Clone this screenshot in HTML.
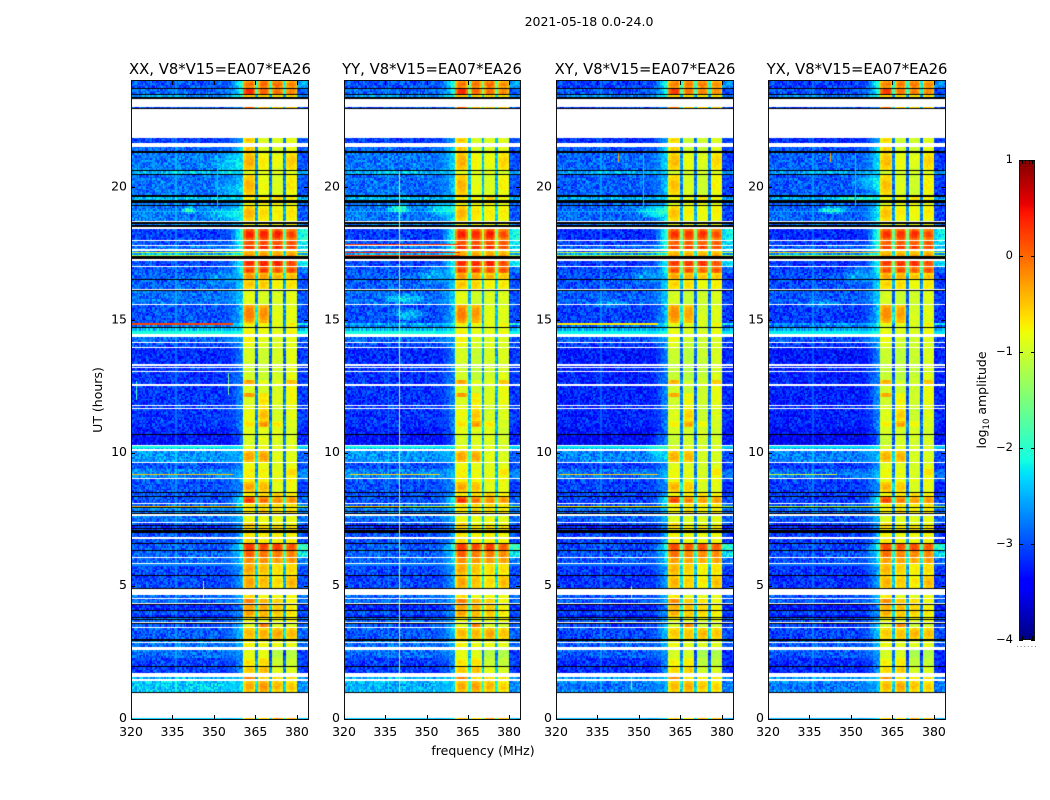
<!DOCTYPE html>
<html lang="en">
<head>
<meta charset="utf-8">
<title>2021-05-18 0.0-24.0</title>
<style>
html,body{margin:0;padding:0;background:#fff;}
#figure{position:relative;width:1050px;height:800px;overflow:hidden;background:#fff;font-family:"DejaVu Sans","Liberation Sans",sans-serif;}
canvas{position:absolute;display:block;}
svg{position:absolute;left:0;top:0;}
text{fill:#000;font-family:"DejaVu Sans","Liberation Sans",sans-serif;}
</style>
</head>
<body>
<div id="figure">
<canvas id="heat0"></canvas>
<canvas id="heat1"></canvas>
<canvas id="heat2"></canvas>
<canvas id="heat3"></canvas>
<canvas id="cbar"></canvas>
<svg id="overlay" width="1050" height="800">
<text x="589" y="26" font-size="12.5" text-anchor="middle">2021-05-18 0.0-24.0</text>
<text x="483" y="755" font-size="12.5" text-anchor="middle">frequency (MHz)</text>
<text transform="translate(102,400) rotate(-90)" font-size="12.5" text-anchor="middle">UT (hours)</text>
<text transform="translate(986,400) rotate(-90)" font-size="12.5" text-anchor="middle">log<tspan dy="3" font-size="8.5">10</tspan><tspan dy="-3"> amplitude</tspan></text>
</svg>
</div>
<script>
/* Shorthand for flagged samples: W = no data (white), K = black divider row */
const W = null, K = -9;

/* Value ranges of the figure */
const freqRange = [320, 384];
const utRange = [0, 24];
const colorRange = [-4, 1];

/* Tick labels */
const freqTicks = [320, 335, 350, 365, 380];
const utTicks = [0, 5, 10, 15, 20];
const colorTicks = [-4, -3, -2, -1, 0, 1];
const panelTitles = ["XX, V8*V15=EA07*EA26", "YY, V8*V15=EA07*EA26", "XY, V8*V15=EA07*EA26", "YX, V8*V15=EA07*EA26"];

/* Receiver sub-bands in MHz */
const blockEdges = [[360.6, 365.0], [366.0, 370.0], [371.0, 375.0], [376.0, 380.0]];
const shoulderStart = 353;

/* Time bands, top to bottom.
   [UT of band top, background, shoulder, block1, block2, block3, block4, right edge] (log10 amplitude) */
const timeBands = [
[24.00,-2.9,-1.7,0.0,0.05,0.05,-0.1,-2.5],[23.74,K],
[23.70,-2.8,-1.9,0.35,0.05,0.0,-0.1,-2.9],[23.51,K],
[23.47,-2.5,-1.9,-0.5,-0.6,-0.6,-0.6,-2.5],[23.40,K],
[23.32,W],[23.02,-2.9,-2.4,0.1,-0.4,-0.5,-0.5,-2.8],[22.97,K],
[22.93,W],
[21.86,-3.0,-2.4,-0.5,-0.9,-0.9,-0.8,-2.9],[21.65,W],
[21.53,-2.8,-2.2,-0.5,-0.9,-0.9,-0.8,-2.9],[21.35,K],
[21.30,-2.7,-2.2,-0.35,-0.7,-0.8,-0.5,-2.9],[20.67,K],
[20.63,-2.35,-2.3,-0.9,-0.9,-0.9,-0.9,-2.4],[20.50,K],
[20.47,-2.75,-2.3,-0.4,-0.8,-0.9,-0.65,-2.9],[19.71,K],
[19.64,-2.35,-2.3,-0.7,-0.7,-0.6,-0.7,-2.4],[19.52,K],
[19.40,-2.7,-2.3,-0.8,-0.8,-0.8,-0.8,-2.7],[19.35,K],
[19.30,-2.7,-2.1,-0.4,-0.6,-0.7,-0.65,-2.9],[18.72,W],[18.68,K],
[18.63,-2.6,-2.2,-0.8,-0.8,-0.8,-0.8,-2.6],[18.58,K],[18.49,W],
[18.45,-3.0,-1.6,0.4,0.45,0.45,0.25,-2.0],[18.02,W],
[17.97,-2.9,-1.7,0.15,0.2,0.15,0.15,-2.2],[17.83,W],
[17.79,-2.75,-1.7,0.3,0.35,0.35,0.2,-2.2],[17.67,W],
[17.61,-2.8,-2.0,-0.4,-0.4,-0.4,-0.4,-2.4],[17.55,-0.9,-0.9,-0.4,-0.4,-0.4,-0.4,-0.9],
[17.52,-2.4,-2.0,-0.3,-0.3,-0.3,-0.3,-2.4],[17.47,-1.1,-1.0,-0.2,-0.2,-0.2,-0.2,-1.1],
[17.42,K],[17.29,W],
[17.24,-2.95,-1.9,0.35,0.4,0.4,0.25,-2.2],[17.04,W],
[17.00,-2.9,-1.9,0.25,0.3,0.2,0.25,-2.7],[16.78,-2.8,-2.2,-0.2,-0.25,-0.4,-0.4,-2.9],[16.54,K],
[16.50,-2.8,-2.2,-0.45,-0.5,-0.7,-0.6,-2.9],[16.18,W],[16.14,K],
[16.10,-2.75,-2.2,-0.85,-0.95,-0.9,-0.85,-2.9],[15.61,W],
[15.56,-2.9,-2.3,-0.1,-0.2,-0.85,-0.8,-2.9],
[14.88,-2.4,-1.9,-0.7,-0.7,-0.8,-0.7,-2.0],
[14.82,-2.65,-2.3,-0.9,-0.9,-0.9,-0.8,-2.8],[14.73,K],
[14.70,-2.35,-2.2,-0.8,-0.8,-0.9,-0.8,-2.35],[14.61,W],
[14.59,-2.3,-2.2,-0.8,-0.9,-0.9,-0.8,-2.3],[14.50,W],
[14.38,-2.8,-2.4,-0.75,-0.85,-0.9,-0.85,-2.9],[14.18,W],
[14.13,-2.95,-2.5,-0.8,-0.9,-0.9,-0.85,-2.9],[14.01,W],
[13.95,-3.1,-2.6,-0.95,-1.0,-0.95,-0.85,-3.0],[13.34,W],
[13.28,-3.05,-2.5,-1.0,-1.05,-1.0,-0.9,-3.0],[13.24,W],
[13.20,-3.05,-2.5,-1.0,-1.05,-1.0,-0.9,-3.0],[13.10,W],
[13.05,-3.05,-2.6,-0.95,-1.05,-0.95,-0.8,-3.0],
[12.75,-3.05,-2.6,-0.3,-0.85,-0.9,-0.4,-3.0],[12.61,W],
[12.53,-3.05,-2.6,-0.9,-0.95,-0.9,-0.75,-3.0],
[12.26,-3.05,-2.6,-0.25,-0.65,-0.9,-0.75,-3.0],
[12.11,-3.05,-2.6,-0.9,-0.65,-0.9,-0.75,-3.0],[11.81,W],
[11.78,-3.0,-2.5,-0.8,-0.7,-0.9,-0.8,-3.0],[11.71,W],
[11.67,-3.05,-2.6,-0.8,-0.45,-0.95,-0.85,-3.0],
[11.20,-3.05,-2.6,-0.65,-0.2,-0.65,-0.85,-3.0],
[10.98,-3.15,-2.7,-0.85,-0.85,-0.85,-0.9,-3.1],[10.72,K],
[10.68,-3.25,-2.8,-0.95,-0.85,-0.9,-0.9,-3.1],[10.31,W],
[10.27,-2.35,-2.3,-0.9,-0.85,-0.9,-0.9,-2.4],[10.15,W],
[10.08,-2.55,-2.4,-0.3,-0.25,-0.85,-0.85,-2.8],[9.67,W],
[9.63,-2.9,-2.6,-0.8,-0.8,-0.9,-0.8,-2.9],
[9.42,-2.3,-2.3,-0.9,-0.9,-0.9,-0.9,-2.3],
[9.39,-2.65,-2.4,-0.7,-0.75,-0.85,-0.6,-2.7],
[9.22,-2.5,-2.3,-0.75,-0.8,-0.85,-0.6,-2.5],
[9.18,-2.65,-2.4,-0.7,-0.75,-0.85,-0.7,-2.7],[9.06,W],
[9.02,-2.85,-2.4,-0.7,-0.7,-0.7,-0.7,-2.8],[8.93,K],
[8.90,-2.9,-2.6,-0.3,-0.4,-0.85,-0.75,-3.0],[8.54,K],
[8.51,-2.9,-2.5,-0.7,-0.6,-0.5,-0.7,-2.9],[8.39,K],
[8.35,-2.9,-2.0,0.35,0.05,-0.15,-0.15,-2.8],[8.11,W],
[8.07,-2.8,-2.1,-0.6,-0.5,-0.6,-0.6,-2.7],
[8.02,-1.0,-1.0,-0.7,-0.7,-0.7,-0.7,-1.0],[7.99,-2.8,-2.4,-0.7,-0.7,-0.7,-0.7,-2.6],[7.96,K],
[7.92,-2.5,-2.3,-0.7,-0.7,-0.7,-0.7,-2.5],[7.89,-2.7,-2.4,-0.6,-0.5,-0.6,-0.6,-2.7],[7.81,K],
[7.79,-2.7,-2.4,-0.7,-0.5,-0.7,-0.6,-2.7],[7.74,K],[7.70,W],
[7.65,-2.75,-2.3,-0.8,-0.8,-0.8,-0.8,-2.7],[7.42,W],
[7.37,-2.9,-2.4,-0.5,-0.8,-0.8,-0.8,-2.9],[7.30,K],
[7.26,-3.1,-2.5,-0.5,-0.6,-0.6,-0.6,-3.0],[7.17,K],
[7.15,-3.0,-2.5,-0.6,-0.6,-0.6,-0.6,-3.0],[7.10,K],[7.01,-2.9,-2.4,-0.7,-0.7,-0.7,-0.7,-2.9],
[6.84,W],
[6.78,-2.9,-2.4,-0.6,-0.7,-0.7,-0.7,-2.9],[6.61,K],
[6.57,-2.85,-1.8,0.25,0.2,0.25,0.15,-1.8],[6.36,K],
[6.32,-2.8,-2.1,0.05,-0.05,-0.1,-0.1,-2.1],[6.11,W],
[6.06,-2.8,-2.2,-0.2,-0.2,-0.25,-0.25,-2.7],[5.88,W],
[5.84,-2.95,-2.4,-0.3,-0.4,-0.6,-0.55,-2.9],[5.42,K],
[5.38,-2.95,-2.4,-0.3,-0.4,-0.6,-0.35,-2.9],[4.92,K],
[4.88,W],
[4.66,-2.8,-2.4,-0.6,-0.8,-0.8,-0.8,-2.8],[4.54,W],
[4.50,-2.8,-2.4,-0.1,-0.4,-0.5,-0.7,-2.8],[4.35,W],[4.31,K],
[4.28,-3.1,-2.6,-0.3,-0.35,-0.5,-0.7,-3.0],[4.10,K],
[4.06,-2.9,-2.5,-0.3,-0.4,-0.5,-0.6,-2.9],[3.91,-3.2,-2.6,-0.4,-0.4,-0.6,-0.7,-3.1],[3.85,K],
[3.81,-2.75,-2.4,-0.7,-0.7,-0.7,-0.7,-2.7],[3.76,K],[3.72,-2.8,-2.4,-0.8,-0.8,-0.8,-0.8,-2.8],
[3.66,W],[3.60,K],
[3.56,-2.9,-2.4,-0.9,-0.1,-0.9,-0.9,-2.9],[3.47,W],
[3.41,-2.85,-2.3,-0.4,-0.35,-0.3,-0.4,-2.8],[3.01,K],
[2.95,-2.65,-2.4,-0.8,-0.8,-0.8,-0.8,-2.6],[2.91,W],
[2.87,-2.75,-2.4,-0.7,-0.8,-0.8,-0.8,-2.8],[2.72,W],
[2.60,-2.75,-2.5,-0.85,-0.85,-1.15,-1.15,-3.0],
[2.30,-3.0,-2.6,-0.65,-0.55,-1.0,-1.0,-3.0],[2.01,K],
[1.97,-3.0,-2.6,-0.5,-0.4,-0.85,-0.85,-3.0],[1.74,W],
[1.59,-2.4,-2.2,-0.1,-0.6,-0.6,-0.6,-2.5],[1.52,W],
[1.43,-2.3,-2.25,-0.35,-0.2,-0.4,-0.5,-2.6],[1.02,K],[0.99,W],
[0.05,-2.6,-2.4,-0.5,-0.6,-0.3,-0.4,-2.6]
];

/* Per-panel level adjustments: XX, YY, XY, YX */
const backgroundOffset = [-0.08, -0.1, -0.18, -0.2];
const shoulderOffset = [-0.05, 0, 0, 0.05];
const blockOffset = [[0, 0, 0, 0], [0, -0.05, 0, -0.05], [-0.08, -0.12, -0.1, -0.08], [-0.08, -0.1, -0.08, -0.05]];
const notchDrop = [1.9, 1.6, 1.9, 2.0];

/* Narrow horizontal interference: [panel, UT top, UT bottom, MHz from, MHz to, level] */
const horizontalLines = [
[0,14.88,14.82,320,357,0.2],[0,9.22,9.18,320,357,-0.5],[0,8.02,7.99,320,358,-0.4],
[1,17.85,17.79,320,362,0.3],[1,17.58,17.52,320,362,0.35],[1,17.47,17.42,320,362,0.2],[1,9.22,9.18,322,355,-0.6],[1,8.02,7.99,322,340,-0.5],
[2,14.88,14.82,320,357,-0.7],[2,9.22,9.18,321,357,-0.55],[2,8.02,7.99,320,358,-0.7],
[3,9.22,9.18,320,345,-1.0],[3,17.55,17.52,320,362,-0.5]
];

/* Narrow vertical interference: [panel, MHz, UT from, UT to, level] */
const verticalLines = [
[0,355.2,12.2,13.0,-1.5],[0,346.2,4.55,5.2,-1.0],[0,321.8,12.0,12.7,-1.9],[0,351,19.3,21.3,-2.4],
[1,340,1.0,20.6,-1.1],
[2,342.5,20.95,21.3,-0.3],[3,342.5,20.95,21.3,-0.3],
[3,351.5,19.3,21.3,-2.4],[2,351.5,19.3,21.3,-2.4],[2,347,1.1,1.6,-1.4],[2,347,4.55,5.0,-1.4]
];

/* Smooth background patches: [panel, centre MHz, centre UT, MHz radius, UT radius, gain] */
const backgroundPatches = [
[0,355,20.9,6,0.5,0.35],[0,355,19.9,6,0.4,0.3],[0,354,19.0,8,0.3,0.4],[0,341,19.15,3,0.14,0.8],
[1,340,19.2,5,0.18,0.85],[1,342,15.8,8,0.2,0.6],[1,344,15.2,7,0.25,0.6],[1,355,19.2,6,0.3,0.5],
[2,355,19.1,7,0.3,0.6],[2,340,15.6,7,0.2,0.4],[2,357,10.2,5,0.7,0.3],
[3,343,19.15,6,0.15,0.8],[3,352,19.6,9,0.2,0.55],[3,356,20.2,6,0.4,0.4],[3,340,15.6,7,0.2,0.4],
[0,352,16.6,6,0.4,0.25],[1,352,16.7,6,0.4,0.4],[2,352,16.7,6,0.4,0.4],[3,352,16.7,6,0.4,0.45],
[2,340,1.22,40,0.3,-0.4],[3,340,1.22,40,0.3,-0.35],[1,340,1.22,40,0.3,-0.12]
];

/* Hand-typed speckle table: only a fine texture added on top of the read levels */
const speckleTable = [0.3,-0.6,0.9,-0.2,0.1,-0.9,0.5,0.7,-0.4,-0.1,0.8,-0.7,0.2,-0.3,0.6,-0.8,0.4,1.0,-0.5,0.0,
-0.2,0.7,-1.0,0.3,0.5,-0.6,-0.1,0.9,-0.4,0.2,-0.8,0.6,0.1,-0.3,0.8,-0.7,0.4,-0.9,0.0,0.6,
-0.5,0.3,0.9,-0.2,-0.6,0.7,0.1,-1.0,0.5,-0.1,0.8,-0.4,0.2,-0.7,0.6,0.3,-0.9,0.4,-0.3,0.7,-0.5];

/* Figure layout (pixels) */
const layout = {lefts: [131, 344, 556, 768], rights: [308, 520, 733, 945], top: 81, bottom: 719, titleY: 74, titleX: [220, 432, 645, 857],
  cbar: {left: 1019, right: 1035, top: 160, bottom: 640}, channelMHz: 0.5, rowUT: 0.06};

function xScale(p, f) {
  return layout.lefts[p] + (f - freqRange[0]) / (freqRange[1] - freqRange[0]) * (layout.rights[p] - layout.lefts[p]);
}
function yScale(u) {
  return layout.bottom - (u - utRange[0]) / (utRange[1] - utRange[0]) * (layout.bottom - layout.top);
}
function jetChannel(n, pts) {
  for (let i = 1; i < pts.length; i++) {
    if (n <= pts[i][0]) {
      const a = pts[i - 1], b = pts[i];
      return a[1] + (b[1] - a[1]) * (n - a[0]) / (b[0] - a[0]);
    }
  }
  return pts[pts.length - 1][1];
}
const jetR = [[0,0],[0.35,0],[0.66,1],[0.89,1],[1,0.5]];
const jetG = [[0,0],[0.125,0],[0.375,1],[0.64,1],[0.91,0],[1,0]];
const jetB = [[0,0.5],[0.11,1],[0.34,1],[0.65,0],[1,0]];
function colorOf(v) {
  const n = Math.max(0, Math.min(1, (v - colorRange[0]) / (colorRange[1] - colorRange[0])));
  return "rgb(" + Math.round(255 * jetChannel(n, jetR)) + "," + Math.round(255 * jetChannel(n, jetG)) + "," + Math.round(255 * jetChannel(n, jetB)) + ")";
}
function speckle(c, r) {
  return speckleTable[(c * 13 + r * 29 + c * r) % speckleTable.length];
}
function channelLevel(p, band, f, u, c, r, rowEdge) {
  const bg = band[1] + backgroundOffset[p], sh = band[2] + shoulderOffset[p], s = speckle(c, r);
  const b = blockEdges;
  let v;
  if (f < shoulderStart) {
    v = bg + s * 0.38;
  } else if (f < b[0][0]) {
    const t = (f - shoulderStart) / (b[0][0] - shoulderStart);
    v = bg + (sh - bg) * t * t + s * 0.25;
  } else if (f >= b[3][1]) {
    v = band[7] + backgroundOffset[p] + s * 0.3;
  } else {
    v = null;
    for (let i = 0; i < 4; i++) {
      if (f >= b[i][0] && f < b[i][1]) {
        const edge = Math.min(f - b[i][0], b[i][1] - f);
        const lvl = band[3 + i] + blockOffset[p][i];
        /* Orange/red blocks fade to yellow at their edges, flat yellow ones barely change */
        const fade = Math.max(0, lvl + 1.1) * 0.42;
        const xFade = edge < 1.1 ? (1 - edge / 1.1) : 0;
        v = lvl - fade * Math.min(1, xFade + rowEdge * rowEdge * 0.7) + s * 0.1;
      }
    }
    if (v === null) {
      let i = 0;
      while (i < 3 && f >= b[i + 1][0]) i++;
      v = Math.min(band[3 + i], band[4 + i]) - notchDrop[p] + s * 0.25;
    }
  }
  if (f < b[0][0] || f >= b[3][1]) {
    backgroundPatches.forEach(function (q) {
      if (q[0] === p) {
        const dx = (f - q[1]) / q[3], dy = (u - q[2]) / q[4], d = dx * dx + dy * dy;
        if (d < 1) v += q[5] * (1 - d);
      }
    });
  }
  return v;
}
function drawPanel(p) {
  const cv = document.getElementById("heat" + p), L = layout.lefts[p], R = layout.rights[p];
  cv.width = R - L;
  cv.height = layout.bottom - layout.top;
  cv.style.left = L + "px";
  cv.style.top = layout.top + "px";
  const ctx = cv.getContext("2d");
  const nCh = Math.round((freqRange[1] - freqRange[0]) / layout.channelMHz);
  let rowIndex = 0;
  timeBands.forEach(function (band, bi) {
    const top = band[0], bottom = bi + 1 < timeBands.length ? timeBands[bi + 1][0] : utRange[0];
    if (band[1] === W) return;
    const y0 = Math.round(yScale(top)) - layout.top, y1 = Math.max(y0 + 1, Math.round(yScale(bottom)) - layout.top);
    if (band[1] === K) {
      ctx.fillStyle = "#000";
      ctx.fillRect(0, y0, cv.width, y1 - y0);
      return;
    }
    const nRows = Math.max(1, Math.round((top - bottom) / layout.rowUT));
    for (let r = 0; r < nRows; r++) {
      const ut = top - (r + 0.5) * (top - bottom) / nRows;
      const ya = y0 + Math.round((y1 - y0) * r / nRows), yb = y0 + Math.round((y1 - y0) * (r + 1) / nRows);
      const rowEdge = nRows > 3 ? Math.abs(2 * (r + 0.5) / nRows - 1) : 0;
      rowIndex++;
      for (let c = 0; c < nCh; c++) {
        const f = freqRange[0] + (c + 0.5) * layout.channelMHz;
        const v = channelLevel(p, band, f, ut, c, rowIndex, rowEdge);
        const xa = Math.round(xScale(p, f - layout.channelMHz / 2)) - L, xb = Math.round(xScale(p, f + layout.channelMHz / 2)) - L;
        ctx.fillStyle = colorOf(v);
        ctx.fillRect(xa, ya, xb - xa, yb - ya);
      }
    }
  });
  horizontalLines.forEach(function (h) {
    if (h[0] !== p) return;
    ctx.fillStyle = colorOf(h[5]);
    const ya = Math.round(yScale(h[1])) - layout.top, xa = Math.round(xScale(p, h[3])) - L, xb = Math.round(xScale(p, h[4])) - L;
    ctx.fillRect(xa, ya, xb - xa, Math.max(1, Math.round(yScale(h[2])) - layout.top - ya));
  });
  verticalLines.forEach(function (w) {
    if (w[0] !== p) return;
    const x = Math.round(xScale(p, w[1])) - L, ya = Math.round(yScale(w[3])) - layout.top, yb = Math.round(yScale(w[2])) - layout.top;
    ctx.fillStyle = colorOf(w[4]);
    ctx.fillRect(x, ya, 1, yb - ya);
  });
  /* Re-clear the no-data bands so vertical lines stop at the gaps */
  timeBands.forEach(function (band, bi) {
    if (band[1] !== W) return;
    const bottom = bi + 1 < timeBands.length ? timeBands[bi + 1][0] : utRange[0];
    const ya = Math.round(yScale(band[0])) - layout.top, yb = Math.round(yScale(bottom)) - layout.top;
    ctx.clearRect(0, ya, cv.width, yb - ya);
  });
}
function drawColorbar() {
  const c = layout.cbar, cv = document.getElementById("cbar");
  cv.width = c.right - c.left;
  cv.height = c.bottom - c.top;
  cv.style.left = c.left + "px";
  cv.style.top = c.top + "px";
  const ctx = cv.getContext("2d");
  for (let y = 0; y < cv.height; y++) {
    ctx.fillStyle = colorOf(colorRange[1] - (y + 0.5) / cv.height * (colorRange[1] - colorRange[0]));
    ctx.fillRect(0, y, cv.width, 1);
  }
}
function colorScale(v) {
  const c = layout.cbar;
  return c.bottom - (v - colorRange[0]) / (colorRange[1] - colorRange[0]) * (c.bottom - c.top);
}
const svg = document.getElementById("overlay");
const NS = "http://www.w3.org/2000/svg";
function addLine(x1, y1, x2, y2) {
  const el = document.createElementNS(NS, "line");
  el.setAttribute("x1", x1);
  el.setAttribute("y1", y1);
  el.setAttribute("x2", x2);
  el.setAttribute("y2", y2);
  el.setAttribute("stroke", "#000");
  el.setAttribute("stroke-width", "1");
  svg.appendChild(el);
  return el;
}
function addText(x, y, str, size, anchor) {
  const el = document.createElementNS(NS, "text");
  el.setAttribute("x", x);
  el.setAttribute("y", y);
  el.setAttribute("font-size", size);
  el.setAttribute("text-anchor", anchor);
  el.textContent = str;
  svg.appendChild(el);
  return el;
}
function drawAxes(p) {
  const L = layout.lefts[p], R = layout.rights[p], T = layout.top, B = layout.bottom;
  const frame = document.createElementNS(NS, "rect");
  frame.setAttribute("x", L + 0.5);
  frame.setAttribute("y", T - 0.5);
  frame.setAttribute("width", R - L);
  frame.setAttribute("height", B - T + 1);
  frame.setAttribute("fill", "none");
  frame.setAttribute("stroke", "#111");
  frame.setAttribute("stroke-width", "1");
  
  
  svg.appendChild(frame);
  freqTicks.forEach(function (f) {
    const x = Math.round(xScale(p, f)) + 0.5;
    const t1 = addLine(x, B, x, B - 4);
    
    
    const t2 = addLine(x, T, x, T + 4);
    
    
    const lab = addText(xScale(p, f), B + 17, String(f), 12.5, "middle");
    
    
  });
  utTicks.forEach(function (u) {
    const y = Math.round(yScale(u)) + 0.5;
    const t1 = addLine(L, y, L + 4, y);
    
    
    const t2 = addLine(R, y, R - 4, y);
    
    
    const lab = addText(L - 4, yScale(u) + 3, String(u), 12.5, "end");
    
    
  });
  const title = addText(layout.titleX[p], layout.titleY, panelTitles[p], 14.8, "middle");
  
  
}
function drawColorbarAxes() {
  const c = layout.cbar;
  const frame = document.createElementNS(NS, "rect");
  frame.setAttribute("x", c.left + 0.5);
  frame.setAttribute("y", c.top + 0.5);
  frame.setAttribute("width", c.right - c.left - 1);
  frame.setAttribute("height", c.bottom - c.top - 1);
  frame.setAttribute("fill", "none");
  frame.setAttribute("stroke", "#111");
  
  
  svg.appendChild(frame);
  colorTicks.forEach(function (v) {
    const y = Math.round(colorScale(v)) + 0.5;
    const t1 = addLine(c.left, y, c.left + 4, y);
    
    
    const t2 = addLine(c.right, y, c.right - 4, y);
    
    
    const lab = addText(c.left - 6, colorScale(v) + 3, String(v).replace("-", "\u2212"), 11.5, "end");
    
    
  });
  for (let i = 1; i < 5; i++) {
    const x = Math.round(c.left + i * (c.right - c.left) / 5) + 0.5;
    const t1 = addLine(x, c.top, x, c.top + 4);
    
    
    const t2 = addLine(x, c.bottom, x, c.bottom - 4);
    
    
  }
  for (let i = 0; i < 6; i++) {
    const dot = document.createElementNS(NS, "rect");
    dot.setAttribute("x", c.left - 2 + i * 3.6);
    dot.setAttribute("y", c.bottom + 6);
    dot.setAttribute("width", 1);
    dot.setAttribute("height", 1);
    dot.setAttribute("fill", "#888");
    
    
    svg.appendChild(dot);
  }
}
[0, 1, 2, 3].forEach(function (p) {
  drawPanel(p);
  drawAxes(p);
});
drawColorbar();
drawColorbarAxes();
</script>
</body>
</html>
